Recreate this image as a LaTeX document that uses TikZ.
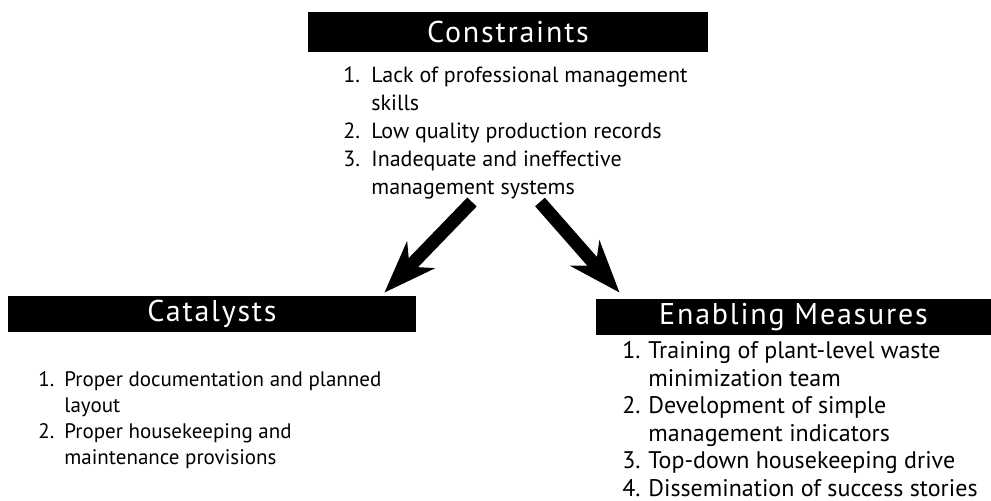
\documentclass[tikz,border=0pt]{standalone}
\usepackage{fontspec}
\setmainfont{PT Sans}
\newfontfamily\barfont[LetterSpace=6]{PT Sans}
\usetikzlibrary{arrows.meta,calc}

\tikzset{
    headbar/.style={fill=black, text=white, inner sep=0pt, minimum height=18pt,
        font=\barfont\fontsize{15}{18}\selectfont},
    itemlist/.style={anchor=north west, inner sep=0pt},
    bigarrow/.style={line width=6.5pt, -{Stealth[length=26pt, width=19pt, inset=8pt]}}
}

\begin{document}
\begin{tikzpicture}[x=0.5pt, y=-0.5pt]
    \useasboundingbox (0,0) rectangle (991,500);

    % Black header bars
    \node[headbar, minimum width=200pt, minimum height=20pt] (consbar) at (508,32) {Constraints};
    \node[headbar, minimum width=204pt] (catbar) at (212,314) {Catalysts};
    \node[headbar, minimum width=197.5pt] (enabar) at (793.5,317) {Enabling Measures};

    % Numbered lists below the bars
    \node[itemlist, font=\fontsize{11}{14}\selectfont] (conslist) at (343,62)
    {\begin{tabular}{@{}p{14pt}@{}l@{}}
        1. & Lack of professional management\\
           & skills\\
        2. & Low quality production records\\
        3. & Inadequate and ineffective\\
           & management systems
    \end{tabular}};

    \node[itemlist, font=\fontsize{10.5}{13}\selectfont] (catlist) at (38,368)
    {\begin{tabular}{@{}p{13pt}@{}l@{}}
        1. & Proper documentation and planned\\
           & layout\\
        2. & Proper housekeeping and\\
           & maintenance provisions
    \end{tabular}};

    \node[itemlist, font=\fontsize{12}{13.75}\selectfont] (enalist) at (622,339)
    {\begin{tabular}{@{}p{13pt}@{}l@{}}
        1. & Training of plant-level waste\\
           & minimization team\\
        2. & Development of simple\\
           & management indicators\\
        3. & Top-down housekeeping drive\\
        4. & Dissemination of success stories
    \end{tabular}};

    % Arrows from the constraints down to both bars
    \coordinate (tailL) at (472,202);
    \coordinate (tailR) at (540,202);
    \draw[bigarrow] (tailL) -- ($(catbar.north east)+(-32,-3)$);
    \draw[bigarrow] (tailR) -- ($(enabar.north west)+(24,-6)$);

\end{tikzpicture}
\end{document}
